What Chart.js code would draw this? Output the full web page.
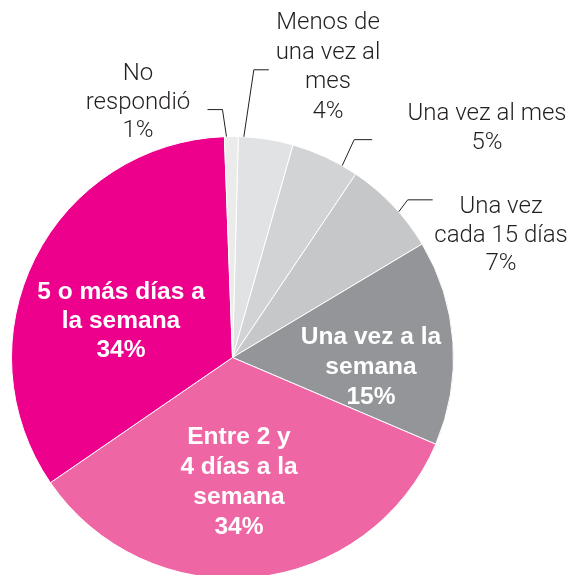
<!DOCTYPE html>
<html><head><meta charset="utf-8">
<script src="https://cdn.jsdelivr.net/npm/chart.js@4.4.1/dist/chart.umd.min.js"></script>
<style>html,body{margin:0;padding:0;background:#fff;overflow:hidden}#wrap{width:573px;height:580px}</style>
</head><body><div id="wrap"><canvas id="c" width="573" height="580"></canvas></div>
<script>
const categories = ['Menos de una vez al mes','Una vez al mes','Una vez cada 15 días','Una vez a la semana','Entre 2 y 4 días a la semana','5 o más días a la semana','No respondió'];
const values = [4, 5, 7, 15, 34, 34, 1];
const labelLines = [['Menos de','una vez al','mes'],['Una vez al mes'],['Una vez','cada 15 días'],['Una vez a la','semana'],['Entre 2 y','4 días a la','semana'],['5 o más días a','la semana'],['No','respondió']];
const colors = ['#e1e2e4','#d2d3d5','#c6c7c9','#939598','#ee67a4','#ec008c','#ebebec'];

// label layout (text anchors + leader line shapes)
const layout = [
  {inside:false, x:328, y:23, lh:29.5, t:0.1, dx:10, dy:-67, hx:15},
  {inside:false, x:487, y:114, lh:29, t:0.77, dx:12, dy:-26, hx:18},
  {inside:false, x:501, y:207, lh:28.5, t:0.59, dx:9, dy:-12, hx:25},
  {inside:true, x:371, y:337, lh:30},
  {inside:true, x:239, y:437, lh:30},
  {inside:true, x:121, y:292, lh:29},
  {inside:false, x:138, y:74, lh:28.5, t:0.15, dx:-4, dy:-27, hx:-15}
];

const labelPlugin = {
  id:'pieLabels',
  afterDatasetsDraw(chart){
    const ctx = chart.ctx;
    const meta = chart.getDatasetMeta(0);
    meta.data.forEach((arc, i) => {
      const L = layout[i];
      const lines = labelLines[i].concat([values[i] + '%']);
      ctx.save();
      ctx.textAlign = 'center';
      ctx.textBaseline = 'middle';
      if (L.inside) {
        ctx.fillStyle = '#ffffff';
        ctx.font = 'bold 24.5px "Liberation Sans", Arial, sans-serif';
      } else {
        ctx.fillStyle = '#231f20';
        ctx.font = '300 24px Roboto, "Liberation Sans", sans-serif';
        const p = arc.getProps(['x','y','startAngle','endAngle','outerRadius'], true);
        const a = p.startAngle + L.t * (p.endAngle - p.startAngle);
        const sx = p.x + Math.cos(a) * p.outerRadius;
        const sy = p.y + Math.sin(a) * p.outerRadius;
        const ex = sx + L.dx, ey = sy + L.dy;
        ctx.strokeStyle = '#231f20';
        ctx.lineWidth = 1;
        ctx.beginPath();
        ctx.moveTo(sx, sy);
        ctx.lineTo(ex, ey);
        ctx.lineTo(ex + L.hx, ey);
        ctx.stroke();
      }
      lines.forEach((s, k) => ctx.fillText(s, L.x, L.y + k * L.lh));
      ctx.restore();
    });
  }
};

new Chart(document.getElementById('c'), {
  type:'pie',
  data:{labels:categories, datasets:[{data:values, backgroundColor:colors, borderColor:'#ffffff', borderWidth:1}]},
  options:{
    responsive:false, animation:false, rotation:1.5,
    layout:{padding:{left:11, top:136, right:119, bottom:1}},
    plugins:{legend:{display:false}, tooltip:{enabled:false}}
  },
  plugins:[labelPlugin]
});
</script></body></html>
